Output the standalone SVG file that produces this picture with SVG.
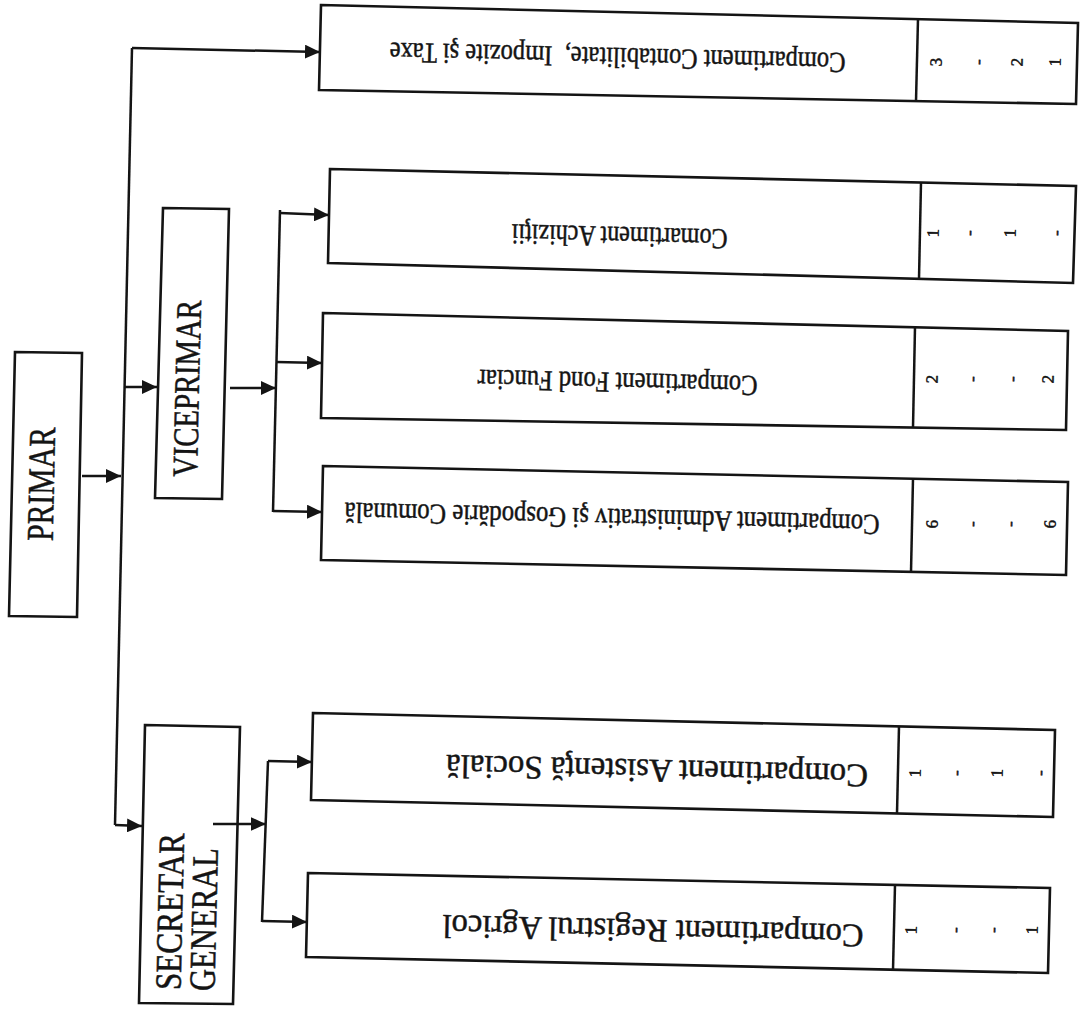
<svg xmlns="http://www.w3.org/2000/svg" width="1086" height="1009" viewBox="0 0 1086 1009">
<style>
.box{fill:none;stroke:#141414;stroke-width:2.6;stroke-linejoin:miter}
.ln{fill:none;stroke:#141414;stroke-width:2.5}
.t{font-family:"Liberation Serif","Times New Roman",serif;fill:#141414;stroke:#141414;stroke-width:0.5;dominant-baseline:central;text-anchor:middle}
.d{font-family:"Liberation Serif","Times New Roman",serif;fill:#141414;stroke:#141414;stroke-width:0.5;font-size:17px;dominant-baseline:central;text-anchor:middle}
</style>
<defs>
<marker id="ah" viewBox="0 0 15 14" refX="15" refY="7" markerWidth="15" markerHeight="14" markerUnits="userSpaceOnUse" orient="auto">
<path d="M0,0 L15,7 L0,14 Z" fill="#141414"/>
</marker>
</defs>
<rect width="1086" height="1009" fill="#ffffff"/>

<g id="connectors">
<path class="ln" d="M132,48 L115,825"/>
<path class="ln" d="M82,476 L121,476" marker-end="url(#ah)"/>
<path class="ln" d="M132,48 L320,52" marker-end="url(#ah)"/>
<path class="ln" d="M124.6,387 L157,387" marker-end="url(#ah)"/>
<path class="ln" d="M115,825 L142,826" marker-end="url(#ah)"/>
<path class="ln" d="M230,388 L276,388" marker-end="url(#ah)"/>
<path class="ln" d="M280,210 L273,512"/>
<path class="ln" d="M280,213 L329,215" marker-end="url(#ah)"/>
<path class="ln" d="M276.5,362 L322,363" marker-end="url(#ah)"/>
<path class="ln" d="M273,511 L322,512" marker-end="url(#ah)"/>
<path class="ln" d="M213,824 L265.7,824" marker-end="url(#ah)"/>
<path class="ln" d="M268,761 L262,922"/>
<path class="ln" d="M268,761 L312,762" marker-end="url(#ah)"/>
<path class="ln" d="M262,921 L307,922" marker-end="url(#ah)"/>
</g>

<g id="primar">
<polygon class="box" points="15,352 82,353 77,617 9,616"/>
<text class="t" transform="translate(41,484) rotate(-88.65)" font-size="38" textLength="114" lengthAdjust="spacingAndGlyphs">PRIMAR</text>
</g>

<g id="viceprimar">
<polygon class="box" points="163,208 229,209 222,499 155,498"/>
<text class="t" transform="translate(187,388.5) rotate(-88.65)" font-size="36" textLength="177" lengthAdjust="spacingAndGlyphs">VICEPRIMAR</text>
</g>

<g id="secretar">
<polygon class="box" points="145,725 240,727 233,1004 139,1003"/>
<text class="t" transform="translate(168,990) rotate(-88.65)" font-size="37" style="text-anchor:start" textLength="157" lengthAdjust="spacingAndGlyphs">SECRETAR</text>
<text class="t" transform="translate(202,991) rotate(-88.65)" font-size="37" style="text-anchor:start" textLength="143" lengthAdjust="spacingAndGlyphs">GENERAL</text>
</g>

<g id="contabilitate">
<polygon class="box" points="321,5 1078,23 1076,104 319,90"/>
<path class="ln" d="M918,19 L916,101"/>
<text class="t" transform="translate(617.5,58) rotate(181.35)" font-size="29" textLength="456" lengthAdjust="spacingAndGlyphs" style="white-space:pre">Compartiment Contabilitate,  Impozite şi Taxe</text>
<text class="d" transform="translate(936,62) rotate(-88.65)">3</text>
<text class="d" transform="translate(978,62) rotate(-88.65)">-</text>
<text class="d" transform="translate(1017,62) rotate(-88.65)">2</text>
<text class="d" transform="translate(1055,62) rotate(-88.65)">1</text>
</g>

<g id="achizitii">
<polygon class="box" points="330,169 1076,186 1073,283 328,263"/>
<path class="ln" d="M921,182.5 L919,279"/>
<text class="t" transform="translate(619.5,237) rotate(181.35)" font-size="29" textLength="216" lengthAdjust="spacingAndGlyphs">Comartiment Achiziţii</text>
<text class="d" transform="translate(933,233) rotate(-88.65)">1</text>
<text class="d" transform="translate(969,233) rotate(-88.65)">-</text>
<text class="d" transform="translate(1010,233) rotate(-88.65)">1</text>
<text class="d" transform="translate(1056,233) rotate(-88.65)">-</text>
</g>

<g id="fond-funciar">
<polygon class="box" points="323,313 1068,331 1066,430 321,418"/>
<path class="ln" d="M915,327 L913,427.5"/>
<text class="t" transform="translate(617.5,383) rotate(181.35)" font-size="29" textLength="280" lengthAdjust="spacingAndGlyphs">Compartiment Fond Funciar</text>
<text class="d" transform="translate(932,379) rotate(-88.65)">2</text>
<text class="d" transform="translate(972,379) rotate(-88.65)">-</text>
<text class="d" transform="translate(1012,379) rotate(-88.65)">-</text>
<text class="d" transform="translate(1048,379) rotate(-88.65)">2</text>
</g>

<g id="administrativ">
<polygon class="box" points="323,466 1068,482 1066,575 321,560"/>
<path class="ln" d="M913,478.7 L911,572"/>
<text class="t" transform="translate(612,519) rotate(181.35)" font-size="29" textLength="535" lengthAdjust="spacingAndGlyphs">Compartiment Administrativ şi Gospodărie Comunală</text>
<text class="d" transform="translate(932,524) rotate(-88.65)">6</text>
<text class="d" transform="translate(972,524) rotate(-88.65)">-</text>
<text class="d" transform="translate(1010,524) rotate(-88.65)">-</text>
<text class="d" transform="translate(1050,524) rotate(-88.65)">6</text>
</g>

<g id="asistenta">
<polygon class="box" points="313,713 1055,730 1053,817 311,800"/>
<path class="ln" d="M899,726.4 L897,813.4"/>
<text class="t" transform="translate(657,771) rotate(181.35)" font-size="33" textLength="422" lengthAdjust="spacingAndGlyphs">Compartiment Asistenţă Socială</text>
<text class="d" transform="translate(915,773) rotate(-88.65)">1</text>
<text class="d" transform="translate(956,773) rotate(-88.65)">-</text>
<text class="d" transform="translate(997,773) rotate(-88.65)">1</text>
<text class="d" transform="translate(1040,773) rotate(-88.65)">-</text>
</g>

<g id="registru">
<polygon class="box" points="308,873 1050,888 1048,973 306,957"/>
<path class="ln" d="M895,885 L893,970"/>
<text class="t" transform="translate(653,931) rotate(181.35)" font-size="33" textLength="421" lengthAdjust="spacingAndGlyphs">Compartiment Registrul Agricol</text>
<text class="d" transform="translate(911,930) rotate(-88.65)">1</text>
<text class="d" transform="translate(955,930) rotate(-88.65)">-</text>
<text class="d" transform="translate(993,930) rotate(-88.65)">-</text>
<text class="d" transform="translate(1032,930) rotate(-88.65)">1</text>
</g>
</svg>
